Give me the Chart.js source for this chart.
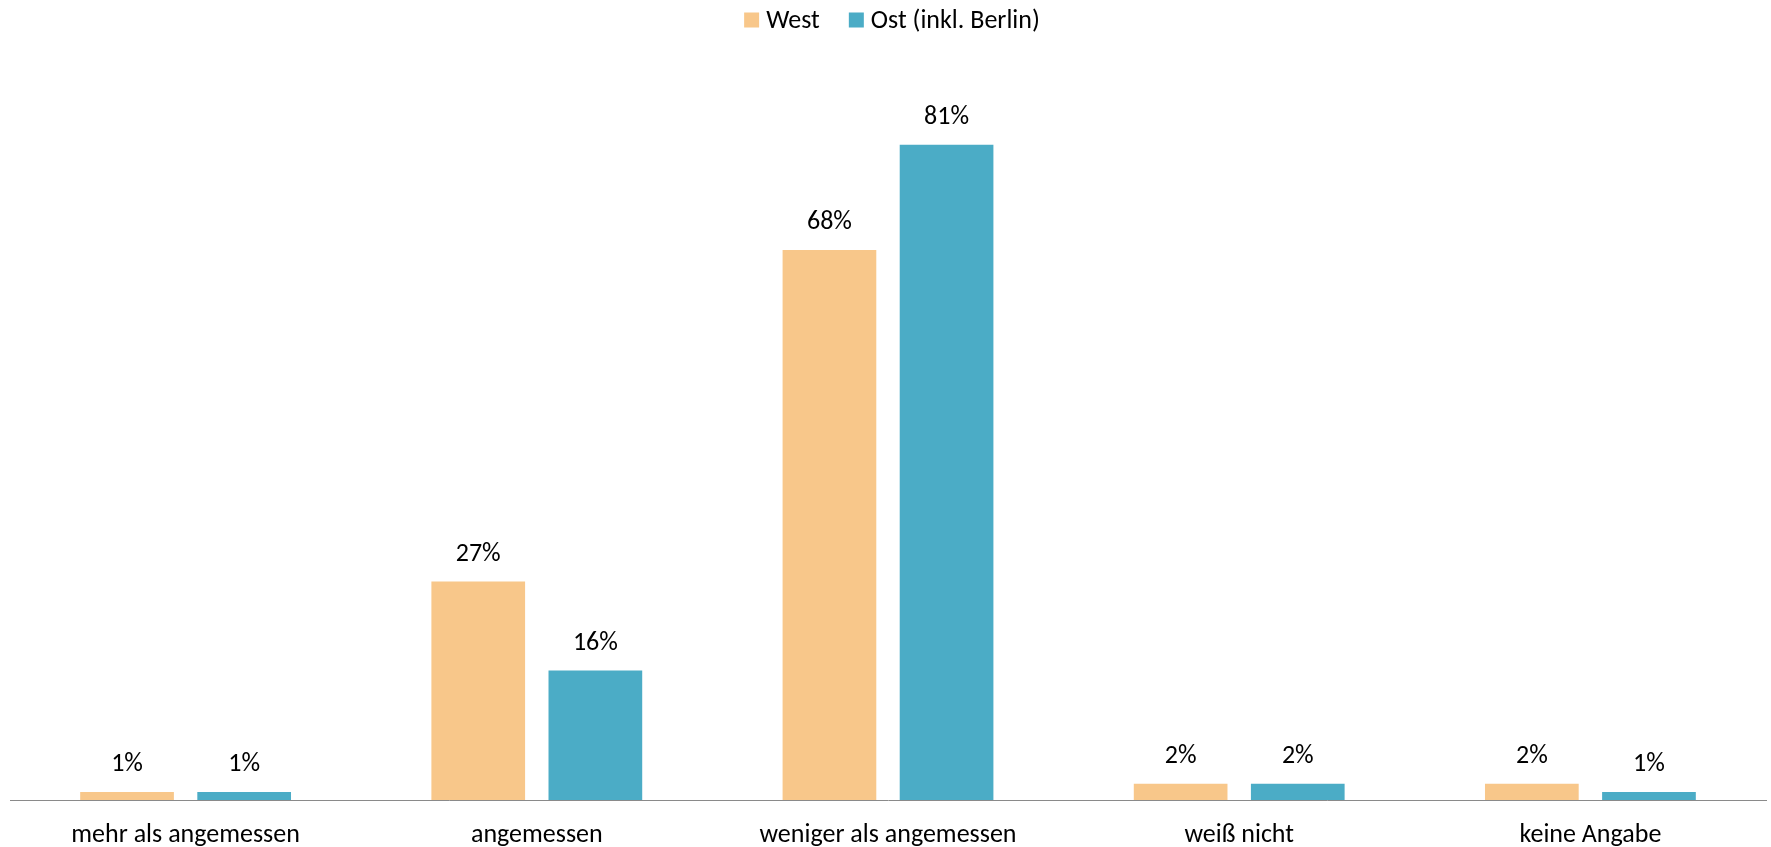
<!DOCTYPE html>
<html lang="de">
<head>
<meta charset="utf-8">
<title>West / Ost</title>
<script src="https://cdn.jsdelivr.net/npm/chart.js@4.4.1/dist/chart.umd.min.js"></script>
<style>
  html, body { margin: 0; padding: 0; background: #ffffff; }
  #wrap { width: 1771px; height: 847px; position: relative; }
</style>
</head>
<body>
<div id="wrap"><canvas id="chart"></canvas></div>
<script>
// Antwortkategorien und Anteile (in %)
const categories = ['mehr als angemessen', 'angemessen', 'weniger als angemessen', 'weiß nicht', 'keine Angabe'];
const west = [1, 27, 68, 2, 2];
const ost = [1, 16, 81, 2, 1];
const seriesNames = ['West', 'Ost (inkl. Berlin)'];

const FONT = 'Carlito, Calibri, Lato, sans-serif';
const TEXT = '#000000';

// Prozentwerte über den Balken
const valueLabels = {
  id: 'valueLabels',
  afterDatasetsDraw(chart) {
    const ctx = chart.ctx;
    ctx.save();
    ctx.font = '26px ' + FONT;
    ctx.fillStyle = TEXT;
    ctx.textAlign = 'center';
    ctx.textBaseline = 'middle';
    chart.data.datasets.forEach((ds, i) => {
      chart.getDatasetMeta(i).data.forEach((bar, j) => {
        ctx.fillText(ds.data[j] + '%', bar.x, bar.y - 27);
      });
    });
    ctx.restore();
  }
};

// Legende oben mittig: Quadrat + Beschriftung je Reihe
const topLegend = {
  id: 'topLegend',
  afterDraw(chart) {
    const ctx = chart.ctx;
    const box = 15, gapText = 7, gapItem = 29, cy = 20;
    ctx.save();
    ctx.font = '26px ' + FONT;
    ctx.textBaseline = 'middle';
    ctx.textAlign = 'left';
    const items = chart.data.datasets.map(ds => ({
      label: ds.label, color: ds.backgroundColor, w: ctx.measureText(ds.label).width
    }));
    const total = items.reduce((s, it) => s + box + gapText + it.w, 0) + gapItem * (items.length - 1);
    const area = chart.chartArea;
    let x = (area.left + area.right) / 2 - total / 2 + 4;
    items.forEach(it => {
      ctx.fillStyle = it.color;
      ctx.fillRect(x, cy - box / 2, box, box);
      ctx.fillStyle = TEXT;
      ctx.fillText(it.label, x + box + gapText, cy + 1);
      x += box + gapText + it.w + gapItem;
    });
    ctx.restore();
  }
};

new Chart(document.getElementById('chart'), {
  type: 'bar',
  data: {
    labels: categories,
    datasets: [
      { label: seriesNames[0], data: west, backgroundColor: '#F8C78A' },
      { label: seriesNames[1], data: ost, backgroundColor: '#4BACC6' }
    ]
  },
  options: {
    responsive: true,
    maintainAspectRatio: false,
    animation: false,
    layout: { padding: { left: 10, right: 5, top: 72, bottom: -23 } },
    datasets: { bar: { categoryPercentage: 0.667, barPercentage: 0.8 } },
    plugins: {
      legend: { display: false },
      tooltip: { enabled: false }
    },
    scales: {
      x: {
        grid: { display: false, drawTicks: false },
        border: { display: true, color: '#8a8a8a', width: 1 },
        ticks: {
          font: { family: FONT, size: 26, lineHeight: 1 },
          color: TEXT,
          padding: 22,
          maxRotation: 0
        }
      },
      y: {
        display: false,
        min: 0,
        max: 90
      }
    }
  },
  plugins: [valueLabels, topLegend]
});
</script>
</body>
</html>
